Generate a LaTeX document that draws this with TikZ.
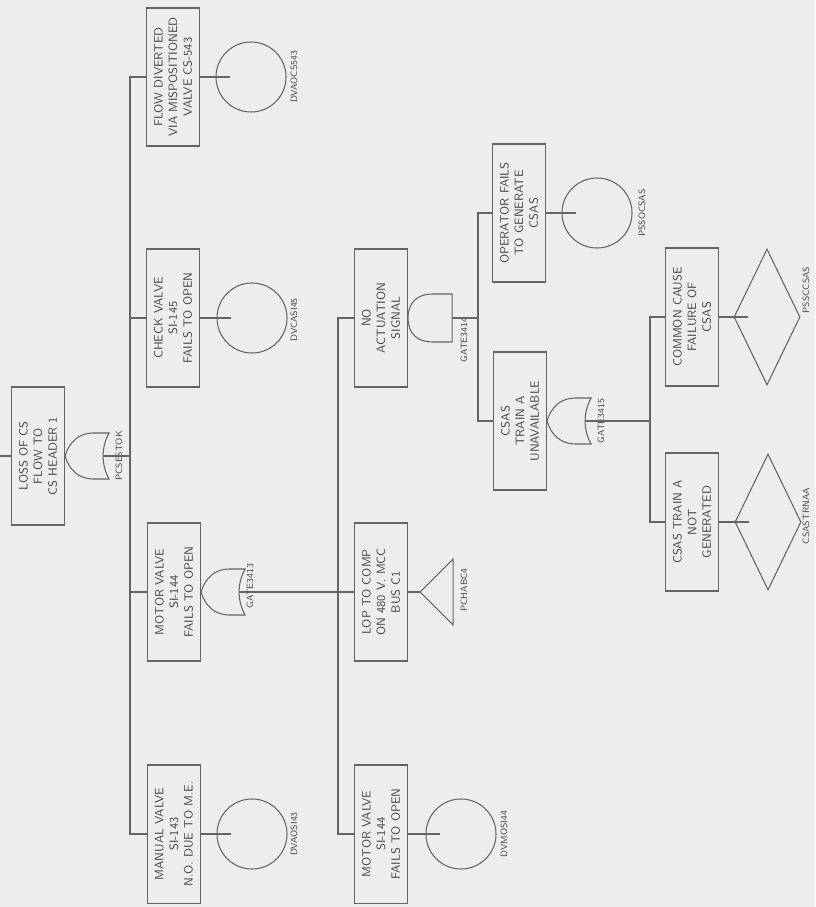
\documentclass[tikz,border=0pt]{standalone}
\usepackage{tikz}
\usetikzlibrary{shapes.geometric}
\definecolor{PaperGray}{RGB}{237,237,235}
\definecolor{InkGray}{RGB}{100,100,100}
\definecolor{TextGray}{RGB}{75,75,75}

\tikzset{
  wire/.style={InkGray,line width=0.75pt},
  evbox/.style={draw=InkGray,line width=0.75pt,rotate=90,minimum width=3.45cm,minimum height=1.325cm,
    inner sep=1pt,align=center,text=TextGray,font=\sffamily\fontsize{8.6}{10.4}\selectfont},
  basic/.style={circle,draw=InkGray,line width=0.75pt,minimum size=1.75cm,inner sep=0pt},
  undev/.style={diamond,draw=InkGray,line width=0.75pt,minimum width=1.65cm,minimum height=3.4cm,inner sep=0pt},
  tag/.style={rotate=90,text=TextGray,font=\sffamily\fontsize{6.5}{7}\selectfont,inner sep=0pt},
  orgate/.pic={
    \draw[wire] (0,0) .. controls (4,-14) and (14,-23) .. (28,-23) -- (44,-23)
      .. controls (36,-8) and (36,8) .. (44,23) -- (28,23) .. controls (14,23) and (4,14) .. (0,0);
    \coordinate (-in) at (38,0);
  },
  andgate/.pic={
    \draw[wire] (0,0) .. controls (0,-16) and (10,-24) .. (24,-24) -- (44,-24) -- (44,24)
      -- (24,24) .. controls (10,24) and (0,16) .. (0,0);
    \coordinate (-in) at (44,0);
  }
}

\begin{document}
\begin{tikzpicture}[x=0.025cm,y=-0.025cm]
  \fill[PaperGray] (0,0) rectangle (815,907);
  \useasboundingbox (0,0) rectangle (815,907);

  % top event and first level
  \node[evbox] (top) at (38,456) {LOSS OF CS\\FLOW TO\\CS HEADER 1};
  \coordinate (topin) at (0,456);
  \draw[wire] (top.north) -- (topin);
  \pic (gtop) at (top.south) {orgate};
  \node[tag] (gtoptag) at (119,456) {PCSESTOK};
  \coordinate (bus1) at (130,0);

  \node[evbox] (flow) at (173,77) {FLOW DIVERTED\\VIA MISPOSITIONED\\VALVE CS-543};
  \node[evbox] (check) at (173,318) {CHECK VALVE\\SI-145\\FAILS TO OPEN};
  \node[evbox] (motora) at (174,592) {MOTOR VALVE\\SI-144\\FAILS TO OPEN};
  \node[evbox] (manual) at (174,834) {MANUAL VALVE\\SI-143\\N.O. DUE TO M.E.};

  \draw[wire] (flow.north) -- (flow.north -| bus1) -- (manual.north -| bus1) -- (manual.north);
  \draw[wire] (check.north) -- (check.north -| bus1);
  \draw[wire] (motora.north) -- (motora.north -| bus1);
  \draw[wire] (gtop-in) -- (gtop-in -| bus1);

  \node[basic] (flowC) at (251,77) {};
  \node[basic] (checkC) at (252,318) {};
  \node[basic] (manualC) at (252,834) {};
  \draw[wire] (flow.south) -- (flowC.west) -- ++(15,0);
  \draw[wire] (check.south) -- (checkC.west) -- ++(15,0);
  \draw[wire] (manual.south) -- (manualC.west) -- ++(15,0);
  \node[tag] (flowtag) at (294,77) {DVAOCS543};
  \node[tag] (checktag) at (294,320) {DVCASI45};
  \node[tag] (manualtag) at (294,834) {DVAOSI43};

  % motor valve gate
  \pic (g13) at (motora.south) {orgate};
  \node[tag] (g13tag) at (250,586) {GATE3413};
  \coordinate (bus2) at (338,0);

  \node[evbox] (noact) at (381,318) {NO\\ACTUATION\\SIGNAL};
  \node[evbox] (lop) at (381,592) {LOP TO COMP\\ON 480 V. MCC\\BUS C1};
  \node[evbox] (motorb) at (381,834) {MOTOR VALVE\\SI-144\\FAILS TO OPEN};

  \draw[wire] (noact.north) -- (noact.north -| bus2) -- (motorb.north -| bus2) -- (motorb.north);
  \draw[wire] (lop.north) -- (lop.north -| bus2);
  \draw[wire] (g13-in) -- (g13-in -| bus2);

  \draw[wire] (lop.south) -- ++(12,0) coordinate (lopT);
  \draw[wire] (lopT) -- ++(33,-33) -- ++(0,66) -- cycle;
  \node[tag] (loptag) at (464,590) {PCHABC4};

  \node[basic] (motorbC) at (461,834) {};
  \draw[wire] (motorb.south) -- (motorbC.west) -- ++(15,0);
  \node[tag] (motorbtag) at (504,834) {DVMOSI44};

  % actuation signal gate
  \pic (g14) at (noact.south) {andgate};
  \node[tag] (g14tag) at (464,340) {GATE3414};
  \coordinate (bus3) at (478,0);

  \node[evbox] (oper) at (519,213) {OPERATOR FAILS\\TO GENERATE\\CSAS};
  \node[evbox] (csasa) at (520,421) {CSAS\\TRAIN A\\UNAVAILABLE};
  \draw[wire] (oper.north) -- (oper.north -| bus3) -- (csasa.north -| bus3) -- (csasa.north);
  \draw[wire] (g14-in) -- (g14-in -| bus3);

  \node[basic] (operC) at (597,213) {};
  \draw[wire] (oper.south) -- (operC.west) -- ++(15,0);
  \node[tag] (opertag) at (642,213) {PSSOCSAS};

  % train A gate
  \pic (g15) at (csasa.south) {orgate};
  \node[tag] (g15tag) at (601,421) {GATE3415};
  \coordinate (bus4) at (650,0);

  \node[evbox] (ccf) at (692,317) {COMMON CAUSE\\FAILURE OF\\CSAS};
  \node[evbox] (notgen) at (692,522) {CSAS TRAIN A\\NOT\\GENERATED};
  \draw[wire] (ccf.north) -- (ccf.north -| bus4) -- (notgen.north -| bus4) -- (notgen.north);
  \draw[wire] (g15-in) -- (g15-in -| bus4);

  \node[undev] (ccfD) at (767,317) {};
  \node[undev] (notgenD) at (768,522) {};
  \draw[wire] (ccf.south) -- (ccfD.west) -- ++(15,0);
  \draw[wire] (notgen.south) -- (notgenD.west) -- ++(15,0);
  \node[tag] (ccftag) at (806,290) {PSSCCSAS};
  \node[tag] (notgentag) at (806,516) {CSASTRNAA};
\end{tikzpicture}
\end{document}
